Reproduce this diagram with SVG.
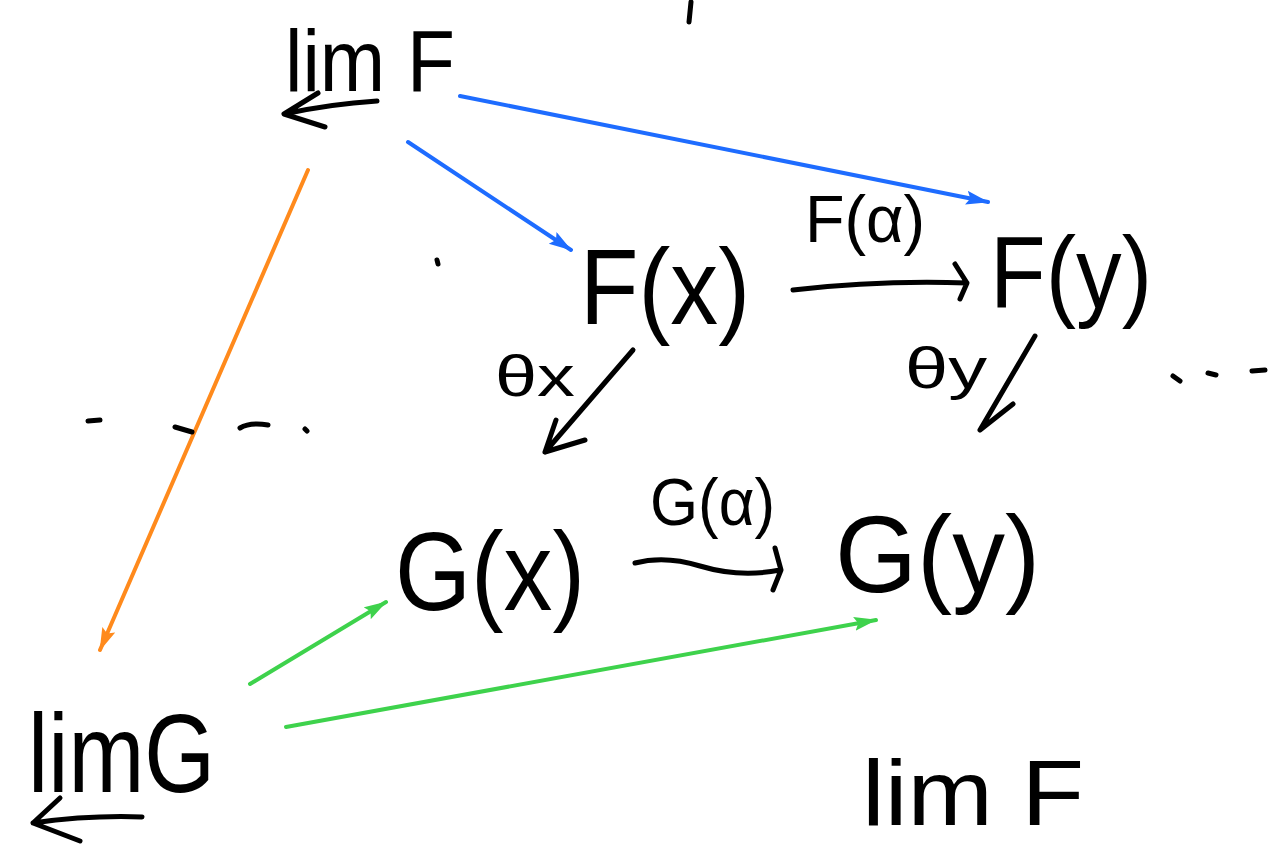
<svg xmlns="http://www.w3.org/2000/svg" width="1278" height="845" viewBox="0 0 1278 845">
<style>
.t{font-family:"Liberation Sans","DejaVu Sans",sans-serif;fill:#000;}
.ink{fill:none;stroke:#000;stroke-width:5;stroke-linecap:round;stroke-linejoin:round;}
.blue{fill:none;stroke:#1e6cff;stroke-width:4;stroke-linecap:round;}
.orange{fill:none;stroke:#ff8a1c;stroke-width:4;stroke-linecap:round;}
.green{fill:none;stroke:#3ed24c;stroke-width:4;stroke-linecap:round;}
</style>
<defs>
<marker id="hb" markerUnits="userSpaceOnUse" markerWidth="26" markerHeight="16" refX="22" refY="7" orient="auto"><path d="M0,0 L23,7 L0,14 L4,7 z" fill="#1e6cff"/></marker>
<marker id="ho" markerUnits="userSpaceOnUse" markerWidth="26" markerHeight="16" refX="22" refY="7" orient="auto"><path d="M0,0 L23,7 L0,14 L4,7 z" fill="#ff8a1c"/></marker>
<marker id="hg" markerUnits="userSpaceOnUse" markerWidth="26" markerHeight="16" refX="22" refY="7" orient="auto"><path d="M0,0 L23,7 L0,14 L4,7 z" fill="#3ed24c"/></marker>
</defs>
<rect width="1278" height="845" fill="#fff"/>

<g id="limF-top">
<text class="t" x="285" y="91" font-size="88" textLength="170" lengthAdjust="spacingAndGlyphs">lim F</text>
<path class="ink" d="M377,101 Q330,104 284,114 M318,93 L284,114 L325,127"/>
</g>
<g id="Fx"><text class="t" x="580" y="324" font-size="108" textLength="170" lengthAdjust="spacingAndGlyphs">F(x)</text></g>
<g id="Fy"><text class="t" x="990" y="308" font-size="102" textLength="162" lengthAdjust="spacingAndGlyphs">F(y)</text></g>
<g id="Gx"><text class="t" x="395" y="610" font-size="112" textLength="190" lengthAdjust="spacingAndGlyphs">G(x)</text></g>
<g id="Gy"><text class="t" x="835" y="592" font-size="110" textLength="205" lengthAdjust="spacingAndGlyphs">G(y)</text></g>
<g id="limG">
<text class="t" x="28" y="792" font-size="112" textLength="187" lengthAdjust="spacingAndGlyphs">limG</text>
<path class="ink" d="M142,817 Q90,815 33,823 M60,798 L33,823 L80,841"/>
</g>
<g id="limF-bottom"><text class="t" x="862" y="825" font-size="92" textLength="222" lengthAdjust="spacingAndGlyphs">lim F</text></g>

<g id="connectors">
<path class="blue" d="M460,96 L988,202" marker-end="url(#hb)"/>
<path class="blue" d="M408,142 L571,250" marker-end="url(#hb)"/>
<path class="orange" d="M308,170 L100,650" marker-end="url(#ho)"/>
<path class="green" d="M250,684 L386,602" marker-end="url(#hg)"/>
<path class="green" d="M286,727 L876,620" marker-end="url(#hg)"/>
<path class="ink" d="M793,290 Q880,280 967,283 M955,264 L967,283 L960,299"/>
<path class="ink" d="M633,350 L545,452 M556,420 L545,452 L585,440"/>
<path class="ink" d="M1035,336 L980,430 M1013,404 L980,430"/>
<path class="ink" d="M635,563 Q665,555 700,566 Q740,578 780,570 M775,548 L781,570 L773,590"/>
</g>

<g id="labels">
<text class="t" x="805" y="242" font-size="66" textLength="120" lengthAdjust="spacingAndGlyphs">F(α)</text>
<text class="t" x="650" y="525" font-size="66" textLength="125" lengthAdjust="spacingAndGlyphs">G(α)</text>
<text class="t" x="495" y="396" font-size="58" textLength="80" lengthAdjust="spacingAndGlyphs">θx</text>
<text class="t" x="905" y="388" font-size="58" textLength="82" lengthAdjust="spacingAndGlyphs">θy</text>
</g>

<g id="marks">
<path class="ink" d="M691,2 L689,22"/>
<path class="ink" d="M437,260 L438,264"/>
<path class="ink" d="M88,421 L100,420 M175,427 L192,432 M240,428 Q250,422 268,425 M305,429 L307,431"/>
<path class="ink" d="M1173,376 L1180,381 M1208,373 L1216,375 M1252,371 L1265,370"/>
</g>
</svg>
